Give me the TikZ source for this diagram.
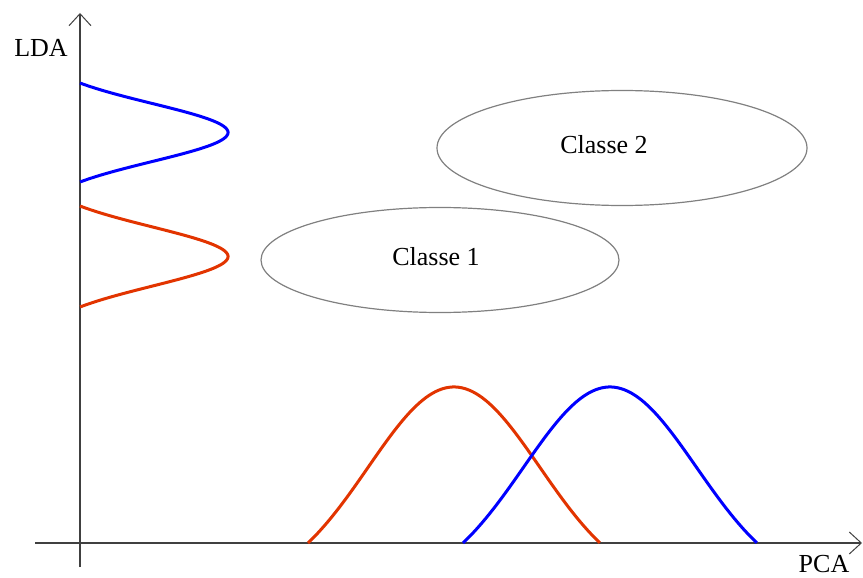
\documentclass[tikz,border=0pt]{standalone}
\usepackage{fontspec}
\setmainfont{Liberation Serif}
\usetikzlibrary{arrows.meta,shapes.geometric}
\definecolor{axisgray}{RGB}{64,64,64}
\definecolor{curvered}{RGB}{226,52,0}
\definecolor{curveblue}{RGB}{0,0,255}
\definecolor{ellgray}{RGB}{128,128,128}
\tikzset{
  axisline/.style={draw=axisgray, line width=2pt, -{Straight Barb[length=12pt,width=22pt,line width=1pt]}},
  redcurve/.style={draw=curvered, line width=3pt},
  bluecurve/.style={draw=curveblue, line width=3pt},
  classell/.style={ellipse, draw=ellgray, line width=1.2pt, inner sep=0pt},
  lbl/.style={font=\fontsize{26}{30}\selectfont, inner sep=0pt, text=black},
}
\begin{document}
\begin{tikzpicture}[x=1pt,y=-1pt]
\useasboundingbox (0,0) rectangle (863,578);
% axes
\coordinate (vbot) at (80,567);
\coordinate (vtop) at (80,13);
\coordinate (hleft) at (35,543);
\coordinate (hright) at (862,543);
\draw[axisline] (vbot) -- (vtop);
\draw[axisline] (hleft) -- (hright);
\node[lbl] (lda) at (41,48) {LDA};
\node[lbl] (pca) at (824,564) {PCA};
% ellipses
\node[classell, minimum width=370pt, minimum height=115pt] (c2) at (622,148) {};
\node[classell, minimum width=358pt, minimum height=105pt] (c1) at (440,260) {};
\node[lbl] (t2) at (604,145) {Classe 2};
\node[lbl] (t1) at (436,257) {Classe 1};
% left gaussians (LDA projection)
\draw[bluecurve] plot[domain=-1:1, samples=90, variable=\t]
  ({80+148*(exp(-1.445*\t*\t)-0.2357)/0.7643}, {132.5+49.5*\t});
\draw[redcurve] plot[domain=-1:1, samples=90, variable=\t]
  ({80+148*(exp(-1.445*\t*\t)-0.2357)/0.7643}, {256.5+50.5*\t});
% bottom gaussians (PCA projection)
\draw[redcurve] plot[domain=-1:1, samples=90, variable=\t]
  ({454+146*\t}, {543-156*(exp(-1.445*\t*\t)-0.2357)/0.7643});
\draw[bluecurve] plot[domain=-1:1, samples=90, variable=\t]
  ({610+147*\t}, {543-156*(exp(-1.445*\t*\t)-0.2357)/0.7643});
\end{tikzpicture}
\end{document}
